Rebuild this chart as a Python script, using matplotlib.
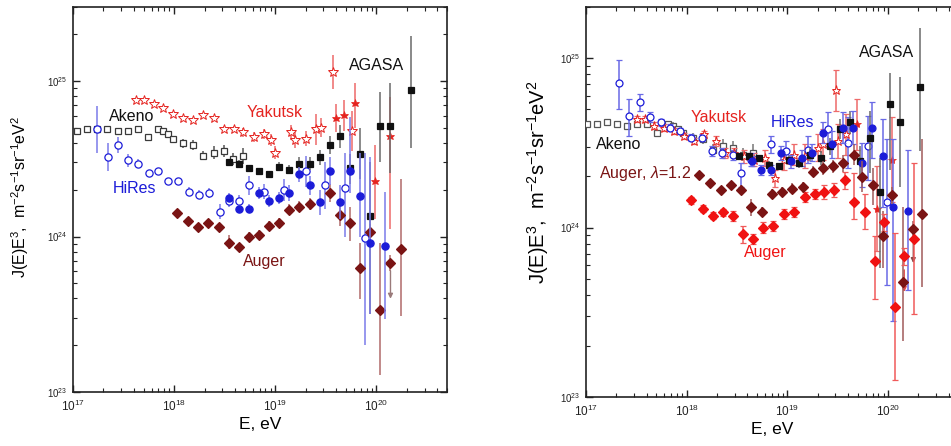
import numpy as np
import matplotlib
matplotlib.use("Agg")
import matplotlib.pyplot as plt

plt.rcParams['font.family'] = ['Liberation Sans', 'DejaVu Sans']
plt.rcParams['mathtext.fontset'] = 'custom'
plt.rcParams['mathtext.rm'] = 'Liberation Sans'
plt.rcParams['mathtext.it'] = 'Liberation Sans:italic'
plt.rcParams['mathtext.bf'] = 'Liberation Sans:bold'

# ---------------- LEFT PANEL DATA (log10 E [eV], log10 J*E^3, errors in dex) -------------
akeno_L_logE = [17.04, 17.14, 17.24, 17.34, 17.45, 17.54, 17.64, 17.74, 17.84, 17.89, 17.94, 17.99, 18.09, 18.19, 18.29, 18.39, 18.49, 18.58, 18.68]
akeno_L_logJ = [24.68, 24.69, 24.69, 24.69, 24.68, 24.68, 24.69, 24.64, 24.69, 24.68, 24.66, 24.63, 24.60, 24.59, 24.52, 24.54, 24.55, 24.50, 24.52]
akeno_L_err = [0.01, 0.01, 0.01, 0.01, 0.01, 0.01, 0.01, 0.01, 0.02, 0.02, 0.02, 0.02, 0.03, 0.03, 0.03, 0.04, 0.04, 0.04, 0.05]

agasa_L_logE = [18.54, 18.64, 18.74, 18.84, 18.94, 19.04, 19.14, 19.24, 19.34, 19.44, 19.54, 19.64, 19.74, 19.84, 19.94, 20.04, 20.14, 20.34]
agasa_L_logJ = [24.48, 24.47, 24.44, 24.42, 24.40, 24.45, 24.43, 24.47, 24.47, 24.51, 24.59, 24.65, 24.44, 24.53, 24.13, 24.71, 24.71, 24.94]
agasa_L_lo = [0.02, 0.02, 0.02, 0.02, 0.02, 0.03, 0.03, 0.04, 0.04, 0.05, 0.06, 0.08, 0.10, 0.16, 0.63, 0.23, 0.30, 0.37]
agasa_L_hi = [0.02, 0.02, 0.02, 0.02, 0.02, 0.03, 0.03, 0.04, 0.04, 0.05, 0.06, 0.07, 0.09, 0.17, 0.35, 0.22, 0.28, 0.35]

yak_L_logE = [17.62, 17.70, 17.80, 17.89, 17.99, 18.09, 18.19, 18.29, 18.39, 18.49, 18.59, 18.68, 18.79, 18.89, 18.96, 19.00, 19.16, 19.20, 19.30, 19.40, 19.45, 19.57, 19.76]
yak_L_logJ = [24.88, 24.88, 24.85, 24.83, 24.79, 24.76, 24.75, 24.78, 24.76, 24.69, 24.69, 24.67, 24.64, 24.66, 24.62, 24.54, 24.67, 24.62, 24.63, 24.69, 24.70, 25.06, 24.68]
yak_L_err = [0.01, 0.01, 0.01, 0.01, 0.01, 0.01, 0.01, 0.01, 0.01, 0.02, 0.02, 0.03, 0.03, 0.03, 0.04, 0.04, 0.05, 0.05, 0.05, 0.10, 0.06, 0.11, 0.13]

yakF_L_logE = [19.60, 19.68, 19.79, 19.99, 20.14]
yakF_L_logJ = [24.76, 24.78, 24.86, 24.36, 24.65]
yakF_L_lo = [0.09, 0.10, 0.16, 0.25, 0.60]
yakF_L_hi = [0.09, 0.10, 0.13, 0.23, 0.25]

hiresO_L_logE = [17.24, 17.35, 17.45, 17.54, 17.64, 17.75, 17.84, 17.94, 18.04, 18.15, 18.25, 18.35, 18.45, 18.54, 18.64, 18.74, 18.89, 19.09, 19.30, 19.49, 19.69, 19.89]
hiresO_L_logJ = [24.69, 24.51, 24.59, 24.49, 24.47, 24.41, 24.42, 24.36, 24.36, 24.29, 24.27, 24.28, 24.16, 24.23, 24.23, 24.33, 24.29, 24.30, 24.42, 24.33, 24.31, 23.99]
hiresO_L_lo = [0.15, 0.09, 0.05, 0.04, 0.03, 0.02, 0.02, 0.02, 0.02, 0.03, 0.03, 0.03, 0.05, 0.04, 0.04, 0.06, 0.05, 0.07, 0.10, 0.15, 0.31, 0.69]
hiresO_L_hi = [0.15, 0.09, 0.05, 0.04, 0.03, 0.02, 0.02, 0.02, 0.02, 0.03, 0.03, 0.03, 0.05, 0.04, 0.04, 0.06, 0.05, 0.07, 0.10, 0.15, 0.23, 0.55]

hiresF_L_logE = [18.54, 18.64, 18.74, 18.84, 18.94, 19.04, 19.14, 19.24, 19.34, 19.44, 19.54, 19.64, 19.74, 19.84, 19.94, 20.09]
hiresF_L_logJ = [24.25, 24.18, 24.18, 24.28, 24.23, 24.25, 24.28, 24.40, 24.33, 24.22, 24.42, 24.22, 24.42, 24.26, 23.96, 23.94]
hiresF_L_lo = [0.03, 0.03, 0.03, 0.04, 0.04, 0.04, 0.05, 0.05, 0.06, 0.08, 0.09, 0.11, 0.14, 0.26, 0.46, 0.47]
hiresF_L_hi = [0.03, 0.03, 0.03, 0.04, 0.04, 0.04, 0.05, 0.05, 0.06, 0.08, 0.09, 0.11, 0.35, 0.28, 0.55, 0.35]

auger_L_logE = [18.03, 18.14, 18.24, 18.34, 18.44, 18.54, 18.64, 18.74, 18.84, 18.94, 19.04, 19.14, 19.24, 19.34, 19.54, 19.64, 19.74, 19.84, 19.94, 20.04, 20.14, 20.24]
auger_L_logJ = [24.15, 24.10, 24.06, 24.09, 24.06, 23.96, 23.93, 24.00, 24.01, 24.07, 24.09, 24.17, 24.19, 24.21, 24.28, 24.14, 24.09, 23.80, 24.03, 23.53, 23.83, 23.92]
auger_L_lo = [0.02, 0.02, 0.02, 0.02, 0.03, 0.04, 0.03, 0.03, 0.03, 0.03, 0.03, 0.03, 0.03, 0.04, 0.06, 0.07, 0.12, 0.20, 0.05, 0.42, 0.05, 0.43]
auger_L_hi = [0.02, 0.02, 0.02, 0.02, 0.03, 0.05, 0.03, 0.03, 0.03, 0.03, 0.03, 0.04, 0.04, 0.04, 0.06, 0.06, 0.10, 0.16, 0.05, 0.43, 0.05, 0.45]
auger_L_ul_logE = [20.14]
auger_L_ul_from = [23.78]
auger_L_ul_to = [23.60]

# ---------------- RIGHT PANEL DATA ----------------
akeno_R_logE = [17.01, 17.11, 17.21, 17.31, 17.41, 17.51, 17.61, 17.71, 17.81, 17.86, 17.91, 17.96, 18.06, 18.16, 18.26, 18.36, 18.46, 18.56, 18.66]
akeno_R_logJ = [24.61, 24.61, 24.62, 24.61, 24.60, 24.61, 24.61, 24.56, 24.61, 24.60, 24.58, 24.56, 24.53, 24.52, 24.46, 24.48, 24.47, 24.43, 24.44]
akeno_R_err = [0.01, 0.01, 0.01, 0.01, 0.01, 0.01, 0.01, 0.01, 0.02, 0.02, 0.02, 0.02, 0.03, 0.03, 0.03, 0.04, 0.04, 0.04, 0.05]

agasa_R_logE = [18.52, 18.62, 18.72, 18.82, 18.92, 19.02, 19.12, 19.22, 19.33, 19.42, 19.52, 19.62, 19.72, 19.82, 19.92, 20.02, 20.12, 20.32]
agasa_R_logJ = [24.42, 24.42, 24.41, 24.37, 24.36, 24.40, 24.38, 24.43, 24.41, 24.48, 24.58, 24.62, 24.39, 24.53, 24.21, 24.73, 24.62, 24.83]
agasa_R_lo = [0.02, 0.02, 0.02, 0.02, 0.02, 0.03, 0.03, 0.04, 0.04, 0.05, 0.06, 0.07, 0.09, 0.21, 0.45, 0.39, 0.38, 0.38]
agasa_R_hi = [0.02, 0.02, 0.02, 0.02, 0.02, 0.03, 0.03, 0.04, 0.04, 0.05, 0.06, 0.07, 0.09, 0.16, 0.20, 0.18, 0.27, 0.35]

yak_R_logE = [17.51, 17.59, 17.68, 17.77, 17.87, 17.97, 18.07, 18.17, 18.29, 18.38, 18.47, 18.57, 18.67, 18.78, 18.88, 18.97, 19.07, 19.17, 19.30, 19.35, 19.48, 19.50, 19.58]
yak_R_logJ = [24.64, 24.64, 24.60, 24.59, 24.57, 24.54, 24.51, 24.55, 24.51, 24.44, 24.44, 24.42, 24.40, 24.41, 24.29, 24.40, 24.43, 24.42, 24.47, 24.49, 24.81, 24.51, 24.55]
yak_R_err = [0.02, 0.02, 0.02, 0.02, 0.02, 0.02, 0.02, 0.02, 0.03, 0.03, 0.03, 0.04, 0.04, 0.05, 0.05, 0.06, 0.06, 0.07, 0.08, 0.09, 0.12, 0.10, 0.12]

yakF_R_logE = [19.69, 19.89, 20.04]
yakF_R_logJ = [24.61, 24.11, 24.40]
yakF_R_err = [0.15, 0.25, 0.25]

hiresO_R_logE = [17.33, 17.43, 17.54, 17.64, 17.74, 17.83, 17.93, 18.04, 18.15, 18.25, 18.35, 18.46, 18.54, 18.64, 18.84, 18.99, 19.20, 19.40, 19.60, 19.80, 19.99]
hiresO_R_logJ = [24.85, 24.66, 24.74, 24.65, 24.62, 24.59, 24.57, 24.53, 24.53, 24.45, 24.44, 24.43, 24.32, 24.40, 24.49, 24.45, 24.46, 24.58, 24.50, 24.48, 24.15]
hiresO_R_lo = [0.15, 0.12, 0.05, 0.03, 0.02, 0.02, 0.02, 0.02, 0.02, 0.03, 0.03, 0.03, 0.08, 0.04, 0.05, 0.06, 0.08, 0.10, 0.15, 0.20, 0.49]
hiresO_R_hi = [0.14, 0.10, 0.05, 0.03, 0.02, 0.02, 0.02, 0.02, 0.02, 0.03, 0.03, 0.03, 0.06, 0.04, 0.05, 0.06, 0.08, 0.10, 0.15, 0.18, 0.37]

hiresF_R_logE = [18.65, 18.74, 18.84, 18.94, 19.04, 19.14, 19.24, 19.35, 19.44, 19.55, 19.65, 19.74, 19.84, 19.95, 20.05, 20.20]
hiresF_R_logJ = [24.39, 24.34, 24.34, 24.44, 24.39, 24.41, 24.44, 24.56, 24.49, 24.59, 24.59, 24.38, 24.59, 24.42, 24.12, 24.10]
hiresF_R_lo = [0.03, 0.03, 0.03, 0.04, 0.04, 0.05, 0.05, 0.06, 0.08, 0.09, 0.10, 0.14, 0.18, 0.30, 0.67, 0.47]
hiresF_R_hi = [0.03, 0.03, 0.03, 0.04, 0.04, 0.05, 0.05, 0.06, 0.08, 0.09, 0.10, 0.12, 0.15, 0.22, 0.40, 0.36]

auger12_R_logE = [18.12, 18.23, 18.34, 18.44, 18.54, 18.64, 18.75, 18.85, 18.95, 19.05, 19.15, 19.25, 19.35, 19.45, 19.55, 19.66, 19.74, 19.85, 19.95, 20.04, 20.15, 20.25, 20.34]
auger12_R_logJ = [24.31, 24.26, 24.22, 24.25, 24.22, 24.12, 24.09, 24.20, 24.21, 24.23, 24.24, 24.33, 24.35, 24.36, 24.38, 24.43, 24.30, 24.25, 23.95, 24.19, 23.68, 23.99, 24.08]
auger12_R_lo = [0.02, 0.02, 0.02, 0.02, 0.03, 0.05, 0.03, 0.03, 0.03, 0.03, 0.03, 0.03, 0.04, 0.04, 0.05, 0.06, 0.09, 0.12, 0.19, 0.05, 0.35, 0.05, 0.43]
auger12_R_hi = [0.02, 0.02, 0.02, 0.02, 0.03, 0.05, 0.03, 0.03, 0.03, 0.03, 0.03, 0.03, 0.04, 0.04, 0.05, 0.06, 0.09, 0.10, 0.15, 0.05, 0.44, 0.05, 0.44]
auger12_R_ul_logE = [20.25]
auger12_R_ul_from = [23.93]
auger12_R_ul_to = [23.79]

auger_R_logE = [18.04, 18.16, 18.26, 18.36, 18.46, 18.56, 18.66, 18.76, 18.86, 18.97, 19.07, 19.17, 19.27, 19.36, 19.46, 19.57, 19.66, 19.77, 19.87, 19.96, 20.07, 20.16, 20.26]
auger_R_logJ = [24.16, 24.11, 24.07, 24.09, 24.07, 23.96, 23.93, 24.00, 24.01, 24.08, 24.09, 24.18, 24.20, 24.21, 24.22, 24.28, 24.15, 24.09, 23.80, 24.03, 23.53, 23.83, 23.93]
auger_R_lo = [0.02, 0.02, 0.02, 0.02, 0.03, 0.05, 0.03, 0.03, 0.03, 0.03, 0.03, 0.03, 0.03, 0.04, 0.04, 0.05, 0.10, 0.10, 0.22, 0.05, 0.43, 0.05, 0.44]
auger_R_hi = [0.02, 0.02, 0.02, 0.02, 0.03, 0.05, 0.03, 0.03, 0.03, 0.03, 0.03, 0.03, 0.03, 0.04, 0.04, 0.05, 0.17, 0.11, 0.15, 0.05, 0.44, 0.05, 0.45]
auger_R_ul_logE = [20.16]
auger_R_ul_from = [23.75]
auger_R_ul_to = [23.62]

# ---------------- styling ----------------
C_BLACK = '#111111'
C_AKENO = '#3a3a3a'
C_RED = '#e5231f'
C_BLUE = '#1c1cd8'
C_DRED = '#7a1414'
C_BRED = '#f01212'

YLABEL = r'J(E)E$^{3}$,  m$^{-2}$s$^{-1}$sr$^{-1}$eV$^{2}$'


def series(ax, logE, logJ, lo, hi, marker, ms, color, ecolor, mfc, capsize=0.0, z=3, mew=0.9, ealpha=1.0):
    lE = np.asarray(logE, float)
    lJ = np.asarray(logJ, float)
    lo = np.asarray(lo, float)
    hi = np.asarray(hi, float)
    E = 10 ** lE
    J = 10 ** lJ
    yl = J - 10 ** (lJ - lo)
    yh = 10 ** (lJ + hi) - J
    ax.errorbar(E, J, yerr=[yl, yh], fmt='none', ecolor=ecolor, elinewidth=1.1,
                capsize=capsize, capthick=0.9, zorder=z - 1, alpha=ealpha)
    ax.plot(E, J, ls='none', marker=marker, ms=ms, mfc=mfc, mec=color, mew=mew, zorder=z)


def arrows(ax, logE, lfrom, lto, color):
    for e, a, b in zip(logE, lfrom, lto):
        ax.annotate('', xy=(10 ** e, 10 ** b), xytext=(10 ** e, 10 ** a),
                    arrowprops=dict(arrowstyle='-|>', color=color, lw=1.0,
                                    mutation_scale=7, shrinkA=0, shrinkB=0), zorder=4)


def style_axes(ax, ymax):
    ax.set_xscale('log')
    ax.set_yscale('log')
    ax.set_xlim(1e17, 5e20)
    ax.set_ylim(1e23, ymax)
    for s in ax.spines.values():
        s.set_linewidth(1.2)
        s.set_color('#222222')
    ax.tick_params(which='both', direction='in', top=True, right=True, colors='#222222')
    ax.tick_params(which='major', length=5, width=1.0)
    ax.tick_params(which='minor', length=2.8, width=0.8)
    ax.tick_params(axis='x', which='major', labelsize=8.5, pad=5)
    ax.tick_params(axis='y', which='major', labelsize=7, pad=4)
    ax.xaxis.set_major_locator(matplotlib.ticker.LogLocator(base=10, numticks=10))
    ax.xaxis.set_minor_locator(matplotlib.ticker.LogLocator(base=10, subs=np.arange(2, 10), numticks=20))
    ax.yaxis.set_minor_locator(matplotlib.ticker.LogLocator(base=10, subs=np.arange(2, 10), numticks=20))
    ax.yaxis.set_minor_formatter(matplotlib.ticker.NullFormatter())
    ax.xaxis.set_minor_formatter(matplotlib.ticker.NullFormatter())
    ax.set_xlabel('E, eV', fontsize=12.5, labelpad=2)


fig = plt.figure(figsize=(9.51, 4.46), dpi=100)

# ---------------- LEFT ----------------
axL = fig.add_axes([73 / 951, 1 - 392 / 446, 374 / 951, 385 / 446])
style_axes(axL, 3e25)

series(axL, akeno_L_logE, akeno_L_logJ, akeno_L_err, akeno_L_err, 's', 4.2, C_AKENO, '#555555', 'white', z=3)
series(axL, yak_L_logE, yak_L_logJ, yak_L_err, yak_L_err, '*', 7.0, C_RED, '#ee6a6a', 'white', z=3, mew=0.7)
series(axL, yakF_L_logE, yakF_L_logJ, yakF_L_lo, yakF_L_hi, '*', 6.2, C_RED, '#ee6a6a', C_RED, z=3, mew=0.5)
series(axL, hiresO_L_logE, hiresO_L_logJ, hiresO_L_lo, hiresO_L_hi, 'o', 5.2, C_BLUE, '#7b7bea', 'white', z=4)
series(axL, auger_L_logE, auger_L_logJ, auger_L_lo, auger_L_hi, 'D', 5.2, C_DRED, '#b06a6a', C_DRED, z=5)
series(axL, agasa_L_logE, agasa_L_logJ, agasa_L_lo, agasa_L_hi, 's', 4.7, C_BLACK, '#6a6a6a', C_BLACK, z=5)
series(axL, hiresF_L_logE, hiresF_L_logJ, hiresF_L_lo, hiresF_L_hi, 'o', 5.2, C_BLUE, '#7b7bea', C_BLUE, z=6)
arrows(axL, auger_L_ul_logE, auger_L_ul_from, auger_L_ul_to, '#9a7a7a')

axL.text(10 ** 20.0, 10 ** 25.10, 'AGASA', color=C_BLACK, fontsize=11.5, ha='center', va='center')
axL.text(10 ** 17.58, 10 ** 24.77, 'Akeno', color=C_BLACK, fontsize=11.5, ha='center', va='center')
axL.text(10 ** 18.99, 10 ** 24.80, 'Yakutsk', color=C_RED, fontsize=11.5, ha='center', va='center')
axL.text(10 ** 17.61, 10 ** 24.31, 'HiRes', color=C_BLUE, fontsize=11.5, ha='center', va='center')
axL.text(10 ** 18.89, 10 ** 23.84, 'Auger', color=C_DRED, fontsize=11.5, ha='center', va='center')

fig.text(20 / 951, 1 - 197 / 446, YLABEL, rotation=90, ha='center', va='center', fontsize=11.5)

# ---------------- RIGHT ----------------
axR = fig.add_axes([586 / 951, 1 - 397 / 446, 372.5 / 951, 390 / 446])
style_axes(axR, 2e25)

series(axR, akeno_R_logE, akeno_R_logJ, akeno_R_err, akeno_R_err, 's', 4.0, '#555555', '#777777', 'white', z=3)
series(axR, yak_R_logE, yak_R_logJ, yak_R_err, yak_R_err, '*', 6.8, C_RED, '#ee6a6a', 'white', capsize=2.5, z=4, mew=0.7)
series(axR, yakF_R_logE, yakF_R_logJ, yakF_R_err, yakF_R_err, '*', 6.0, C_RED, '#ee6a6a', C_RED, capsize=2.5, z=4, mew=0.5)
series(axR, hiresO_R_logE, hiresO_R_logJ, hiresO_R_lo, hiresO_R_hi, 'o', 5.0, C_BLUE, '#6a6ae6', 'white', capsize=2.5, z=4)
series(axR, agasa_R_logE, agasa_R_logJ, agasa_R_lo, agasa_R_hi, 's', 4.5, C_BLACK, '#6a6a6a', C_BLACK, z=5)
series(axR, hiresF_R_logE, hiresF_R_logJ, hiresF_R_lo, hiresF_R_hi, 'o', 5.0, C_BLUE, '#6a6ae6', C_BLUE, capsize=2.5, z=5)
series(axR, auger12_R_logE, auger12_R_logJ, auger12_R_lo, auger12_R_hi, 'D', 5.0, C_DRED, '#a05a5a', C_DRED, z=6)
series(axR, auger_R_logE, auger_R_logJ, auger_R_lo, auger_R_hi, 'D', 5.0, C_BRED, '#f05a5a', C_BRED, capsize=2.5, z=6)
arrows(axR, auger12_R_ul_logE, auger12_R_ul_from, auger12_R_ul_to, '#8a4a4a')
arrows(axR, auger_R_ul_logE, auger_R_ul_from, auger_R_ul_to, '#e04a4a')

axR.text(10 ** 19.98, 10 ** 25.03, 'AGASA', color=C_BLACK, fontsize=11.5, ha='center', va='center')
axR.text(10 ** 18.32, 10 ** 24.65, 'Yakutsk', color=C_RED, fontsize=11.5, ha='center', va='center')
axR.text(10 ** 19.05, 10 ** 24.62, 'HiRes', color=C_BLUE, fontsize=11.5, ha='center', va='center')
axR.text(10 ** 17.32, 10 ** 24.49, 'Akeno', color=C_BLACK, fontsize=11.5, ha='center', va='center')
axR.text(10 ** 17.59, 10 ** 24.32, r'Auger, $\lambda$=1.2', color=C_DRED, fontsize=11.5, ha='center', va='center')
axR.text(10 ** 18.78, 10 ** 23.85, 'Auger', color=C_BRED, fontsize=11.5, ha='center', va='center')

fig.text(538 / 951, 1 - 182 / 446, YLABEL, rotation=90, ha='center', va='center', fontsize=14.5)

fig.savefig('out.png', dpi=100)
